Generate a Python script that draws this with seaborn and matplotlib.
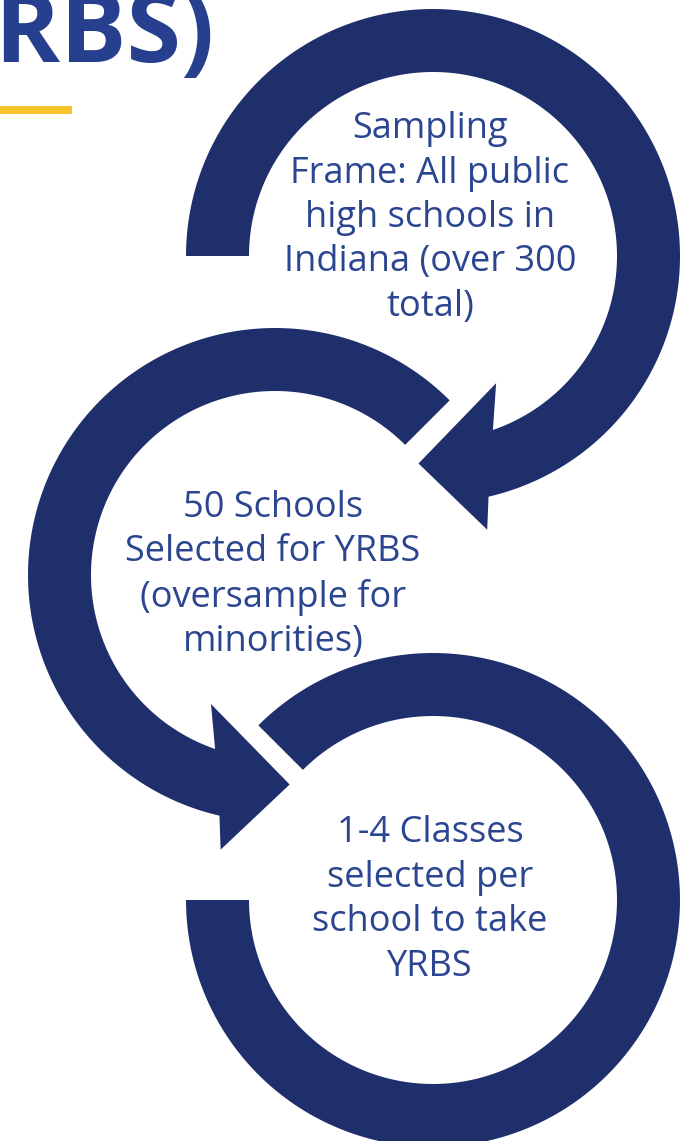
import numpy as np
import seaborn as sns
import matplotlib.pyplot as plt
from matplotlib.patches import Polygon, Rectangle

# Steps of the YRBS sampling process
steps = [
    "Sampling\nFrame: All public\nhigh schools in\nIndiana (over 300\ntotal)",
    "50 Schools\nSelected for YRBS\n(oversample for\nminorities)",
    "1-4 Classes\nselected per\nschool to take\nYRBS",
]
title = "(YRBS)"

ring_color = "#1f2f6b"
text_color = "#2b4590"
title_color = "#263f8e"

sns.set_style("white")
plt.rcParams['font.family'] = ['Open Sans', 'DejaVu Sans']


def arc(cx, cy, r, a0, a1, n=200):
    a = np.radians(np.linspace(a0, a1, n))
    return np.column_stack([cx + r * np.cos(a), cy - r * np.sin(a)])


def point(cx, cy, r, a):
    a = np.radians(a)
    return np.array([[cx + r * np.cos(a), cy - r * np.sin(a)]])


R_OUT, R_IN = 247, 184

fig = plt.figure(figsize=(6.83, 11.41), dpi=100)
ax = fig.add_axes([0, 0, 1, 1])
ax.set_xlim(0, 683)
ax.set_ylim(1141, 0)
ax.axis('off')

# ring 1 (clockwise, arrow at bottom)
cx, cy = 433, 256
pts1 = np.vstack([
    arc(cx, cy, R_OUT, 180, -77),
    point(cx, cy, 279, -78.8),
    point(cx, cy, 208, -94),
    point(cx, cy, 142, -63.6),
    arc(cx, cy, R_IN, -71, 180),
])
ax.add_patch(Polygon(pts1, closed=True, color=ring_color, lw=0))

# ring 2 (counter-clockwise, arrow at bottom)
cx, cy = 275, 575
pts2 = np.vstack([
    arc(cx, cy, R_OUT, 45, 257),
    point(cx, cy, 280, 258.8),
    point(cx, cy, 210, 274),
    point(cx, cy, 144, 243.6),
    arc(cx, cy, R_IN, 251, 45),
])
ax.add_patch(Polygon(pts2, closed=True, color=ring_color, lw=0))

# ring 3 (no arrow)
cx, cy = 433, 900
pts3 = np.vstack([
    arc(cx, cy, R_OUT, 135, -180),
    arc(cx, cy, R_IN, -180, 135),
])
ax.add_patch(Polygon(pts3, closed=True, color=ring_color, lw=0))

# step labels
label_pos = [(430, 218), (273, 575), (430, 900)]
for (x, y), s in zip(label_pos, steps):
    ax.text(x, y, s, ha='center', va='center', fontsize=26, color=text_color,
            linespacing=1.31)

# title fragment and yellow underline
ax.text(214, 62, title, ha='right', va='baseline', fontsize=71,
        fontweight='bold', color=title_color)
ax.add_patch(Rectangle((0, 106), 72, 8, color="#f6c32a", lw=0))

fig.savefig("out.png", dpi=100)
